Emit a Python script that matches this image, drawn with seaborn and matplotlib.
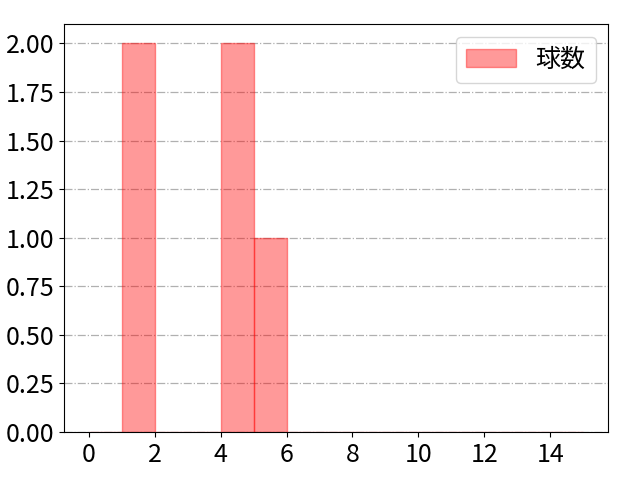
import numpy as np
import matplotlib
matplotlib.use("Agg")
import matplotlib.pyplot as plt
from matplotlib.ticker import MultipleLocator, FormatStrFormatter
import seaborn as sns

# pitch counts per at-bat (raw values, histogram counts come from these)
pitch_values = [1, 1, 4, 4, 5]
bin_edges = np.arange(0, 16)
series_label = '球数'

plt.rcParams['font.family'] = ['Noto Sans CJK JP', 'DejaVu Sans']
plt.rcParams['font.size'] = 18

fig, ax = plt.subplots(figsize=(6.4, 4.8), dpi=100)
fig.subplots_adjust(left=0.1, right=0.95, top=0.95, bottom=0.1)

sns.histplot(x=pitch_values, bins=bin_edges, color='red', alpha=0.4,
             edgecolor=(1, 0, 0, 0.4), linewidth=1, label=series_label, ax=ax)

ax.set_xlabel('')
ax.set_ylabel('')
ax.set_xticks(np.arange(0, 16, 2))
ax.yaxis.set_major_locator(MultipleLocator(0.25))
ax.yaxis.set_major_formatter(FormatStrFormatter('%.2f'))
ax.grid(axis='y', linestyle='-.', color='#b0b0b0', linewidth=0.9)
ax.set_axisbelow(True)
ax.tick_params(labelsize=18)
ax.legend(loc='upper right', fontsize=18)

fig.savefig('out.png', dpi=100)
